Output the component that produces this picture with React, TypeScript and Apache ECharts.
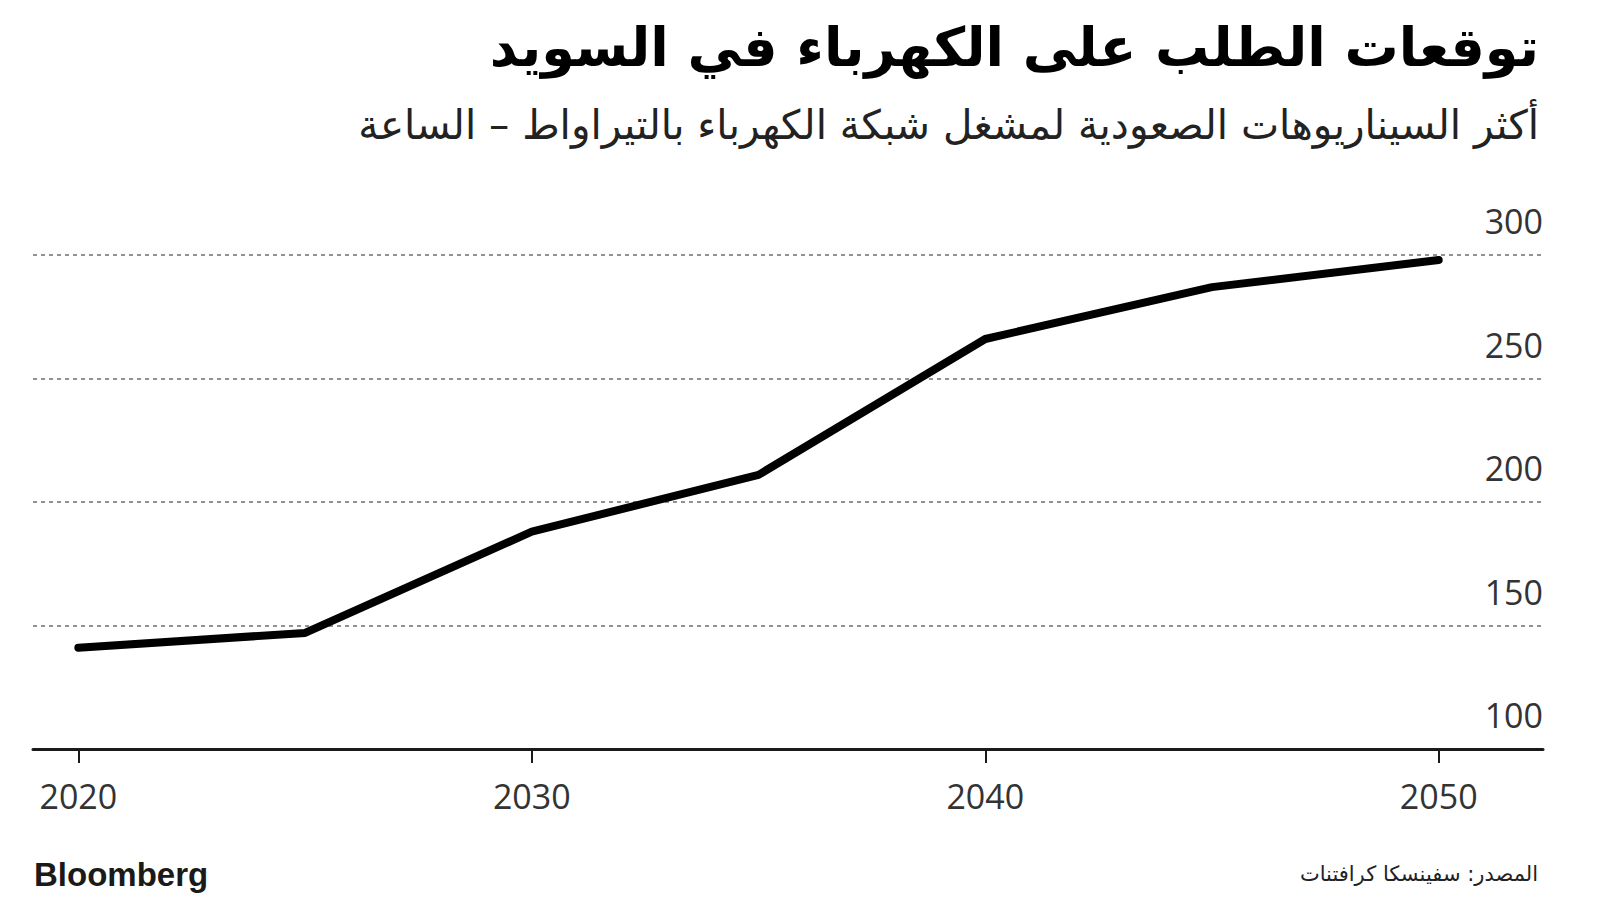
import React, { useEffect, useRef } from "react";
import * as echarts from "echarts";

const years = [2020, 2025, 2030, 2035, 2040, 2045, 2050];
const demand = [141, 147, 188, 211, 266, 287, 298];
const xTicks = [2020, 2030, 2040, 2050];
const yTicks = [100, 150, 200, 250, 300];

const title = "توقعات الطلب على الكهرباء في السويد";
const subtitle = "أكثر السيناريوهات الصعودية لمشغل شبكة الكهرباء بالتيراواط – الساعة";
const source = "المصدر: سفينسكا كرافتنات";
const brand = "Bloomberg";

export default function App() {
  const ref = useRef<HTMLDivElement>(null);
  useEffect(() => {
    if (!ref.current) return;
    const chart = echarts.init(ref.current, null, { renderer: "svg" });
    const arabicFont = "'DejaVu Sans', 'Noto Sans', sans-serif";
    chart.setOption({
      animation: false,
      backgroundColor: "#ffffff",
      grid: {
        left: 33,
        right: 57,
        top: 255,
        bottom: 161,
        containLabel: false,
        outerBoundsMode: "none",
      },
      xAxis: {
        type: "value",
        min: 2019,
        max: 2052.3,
        axisLine: { show: true, lineStyle: { color: "#1a1a1a", width: 3 } },
        axisTick: {
          show: true,
          customValues: xTicks,
          length: 14,
          lineStyle: { color: "#1a1a1a", width: 2 },
        },
        axisLabel: {
          customValues: xTicks,
          fontSize: 34,
          fontFamily: "'Open Sans', sans-serif",
          color: "#333333",
          margin: 30,
          formatter: (v: number) => String(v),
        },
        splitLine: { show: false },
      },
      yAxis: {
        type: "value",
        position: "right",
        min: yTicks[0],
        max: yTicks[yTicks.length - 1],
        interval: 50,
        axisLine: { show: false },
        axisTick: { show: false },
        axisLabel: {
          inside: true,
          margin: 0,
          align: "right",
          verticalAlign: "bottom",
          lineHeight: 34,
          padding: [0, 0, 17, 0],
          fontSize: 34,
          fontFamily: "'Open Sans', sans-serif",
          color: "#333333",
        },
        splitLine: {
          show: true,
          lineStyle: { color: "#929292", width: 2, type: [4, 4] },
        },
      },
      series: [
        {
          type: "line",
          data: years.map((y, i) => [y, demand[i]]),
          showSymbol: false,
          lineStyle: { color: "#000000", width: 8, cap: "round", join: "round" },
          z: 5,
        },
      ],
      graphic: [
        {
          type: "text",
          right: 61,
          top: 20,
          style: {
            text: title,
            font: `bold 54px ${arabicFont}`,
            fill: "#000000",
          },
        },
        {
          type: "text",
          right: 61,
          top: 104,
          style: {
            text: subtitle,
            font: `40.5px ${arabicFont}`,
            fill: "#222222",
          },
        },
        {
          type: "text",
          right: 62,
          top: 863,
          style: {
            text: source,
            font: `21px ${arabicFont}`,
            fill: "#222222",
          },
        },
        {
          type: "text",
          left: 34,
          top: 858,
          style: {
            text: brand,
            font: "bold 33px 'Liberation Sans', Arial, sans-serif",
            fill: "#1a1a1a",
          },
        },
      ],
    });
    return () => chart.dispose();
  }, []);
  return (
    <div
      ref={ref}
      style={{ position: "fixed", left: 0, top: 0, width: 1600, height: 910 }}
    />
  );
}
